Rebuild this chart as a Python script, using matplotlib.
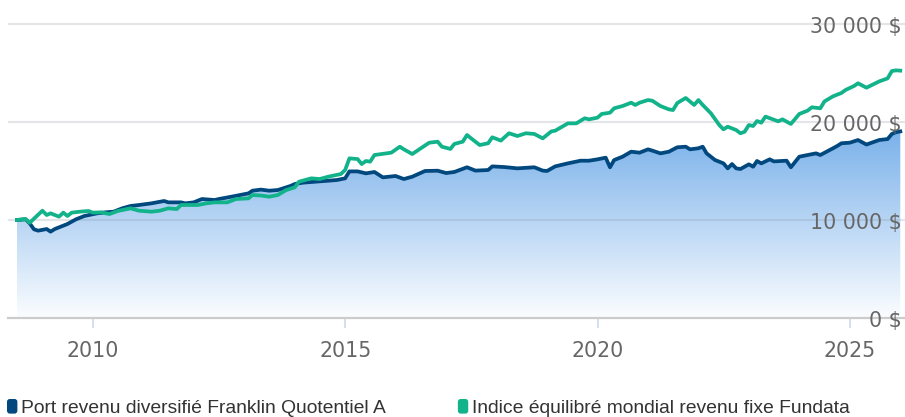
import numpy as np
import pandas as pd
import matplotlib
matplotlib.use("Agg")
import matplotlib.pyplot as plt
import matplotlib.dates as mdates
import matplotlib.transforms as mtransforms
from matplotlib.patches import Patch, FancyBboxPatch
from matplotlib.legend_handler import HandlerPatch
from matplotlib.colors import LinearSegmentedColormap

# ---------------- data ----------------
series_names = ["Port revenu diversifié Franklin Quotentiel A",
                "Indice équilibré mondial revenu fixe Fundata"]

fund_dates = ["2008-06", "2008-08", "2008-09", "2008-10", "2008-11", "2009-01", "2009-02", "2009-03",
              "2009-06", "2009-08", "2009-10", "2010-01", "2010-03", "2010-05", "2010-07", "2010-09",
              "2010-11", "2011-02", "2011-05", "2011-06", "2011-09", "2011-10", "2011-12", "2012-02",
              "2012-05", "2012-06", "2012-09", "2012-11", "2013-01", "2013-02", "2013-04", "2013-06",
              "2013-08", "2013-11", "2013-12", "2014-02", "2014-05", "2014-08", "2014-10", "2014-12",
              "2015-01", "2015-03", "2015-05", "2015-07", "2015-09", "2015-12", "2016-02", "2016-04",
              "2016-07", "2016-10", "2016-12", "2017-02", "2017-05", "2017-07", "2017-10", "2017-11",
              "2018-02", "2018-05", "2018-09", "2018-11", "2018-12", "2019-02", "2019-05", "2019-08",
              "2019-10", "2019-12", "2020-02", "2020-03", "2020-04", "2020-06", "2020-08", "2020-10",
              "2020-12", "2021-01", "2021-03", "2021-05", "2021-07", "2021-09", "2021-10", "2021-12",
              "2022-01", "2022-02", "2022-04", "2022-06", "2022-07", "2022-08", "2022-09", "2022-10",
              "2022-12", "2023-01", "2023-02", "2023-03", "2023-05", "2023-06", "2023-09", "2023-10",
              "2023-12", "2024-02", "2024-04", "2024-05", "2024-08", "2024-09", "2024-10", "2024-12",
              "2025-02", "2025-04", "2025-07", "2025-09", "2025-10", "2025-11", "2025-12"]
fund_values = [10000, 10070, 9660, 9050, 8910, 9080, 8810, 9080,
               9590, 10070, 10410, 10680, 10780, 10850, 11190, 11430,
               11530, 11700, 11940, 11800, 11800, 11700, 11800, 12140,
               12040, 12140, 12380, 12550, 12720, 12990, 13100, 12990,
               13060, 13470, 13670, 13810, 13910, 14010, 14080, 14250,
               14960, 14960, 14760, 14900, 14350, 14490, 14180, 14420,
               15000, 15030, 14790, 14900, 15380, 15040, 15100, 15470,
               15400, 15270, 15380, 15040, 15000, 15470, 15780, 16050,
               16050, 16190, 16360, 15380, 16120, 16460, 16970, 16870,
               17210, 17080, 16800, 16970, 17420, 17480, 17210, 17320,
               17480, 16800, 16120, 15780, 15270, 15710, 15270, 15200,
               15680, 15440, 16020, 15780, 16190, 15980, 16050, 15380,
               16460, 16630, 16800, 16630, 17320, 17550, 17830, 17890,
               18160, 17700, 18160, 18260, 18780, 18960, 19040]

index_dates = ["2008-06", "2008-08", "2008-09", "2008-12", "2009-01", "2009-02", "2009-04", "2009-05",
               "2009-06", "2009-07", "2009-09", "2009-11", "2009-12", "2010-02", "2010-04", "2010-06",
               "2010-09", "2010-11", "2011-02", "2011-04", "2011-06", "2011-08", "2011-09", "2012-01",
               "2012-03", "2012-05", "2012-08", "2012-10", "2013-01", "2013-02", "2013-04", "2013-06",
               "2013-08", "2013-10", "2013-12", "2014-01", "2014-04", "2014-06", "2014-08", "2014-11",
               "2014-12", "2015-01", "2015-03", "2015-04", "2015-05", "2015-06", "2015-07", "2015-11",
               "2016-01", "2016-02", "2016-04", "2016-06", "2016-08", "2016-10", "2016-11", "2017-01",
               "2017-02", "2017-04", "2017-05", "2017-06", "2017-08", "2017-10", "2017-11", "2018-01",
               "2018-03", "2018-05", "2018-07", "2018-09", "2018-11", "2019-01", "2019-02", "2019-05",
               "2019-07", "2019-09", "2019-10", "2019-12", "2020-01", "2020-03", "2020-04", "2020-06",
               "2020-08", "2020-09", "2020-10", "2020-12", "2021-01", "2021-03", "2021-05", "2021-06",
               "2021-07", "2021-09", "2021-11", "2021-12", "2022-01", "2022-03", "2022-05", "2022-06",
               "2022-07", "2022-09", "2022-10", "2022-11", "2022-12", "2023-01", "2023-02", "2023-03",
               "2023-04", "2023-07", "2023-08", "2023-10", "2023-12", "2024-02", "2024-03", "2024-05",
               "2024-06", "2024-08", "2024-09", "2024-10", "2024-11", "2025-01", "2025-02", "2025-04",
               "2025-07", "2025-09", "2025-10", "2025-11", "2025-12"]
index_values = [10000, 10100, 9720, 10950, 10510, 10680, 10340, 10750,
                10410, 10750, 10850, 10920, 10750, 10780, 10610, 10920,
                11190, 10950, 10850, 10950, 11190, 11120, 11530, 11530,
                11700, 11800, 11800, 12140, 12210, 12550, 12500, 12380,
                12550, 13060, 13330, 13910, 14250, 14180, 14420, 14690,
                15100, 16290, 16220, 15710, 16020, 15950, 16630, 16870,
                17480, 17210, 16730, 17310, 17890, 17990, 17480, 17250,
                17760, 17990, 18670, 18330, 17650, 17830, 18440, 18100,
                18850, 18570, 18850, 18780, 18330, 19040, 19110, 19860,
                19860, 20380, 20270, 20440, 20820, 20950, 21400, 21630,
                21970, 21740, 21970, 22240, 22170, 21630, 21290, 21220,
                21940, 22450, 21740, 22240, 21740, 20890, 19690, 19250,
                19520, 19180, 18850, 19000, 19690, 19590, 20100, 19930,
                20550, 20070, 20270, 19800, 20820, 21160, 21500, 21400,
                22100, 22620, 22790, 22960, 23270, 23680, 23950, 23500,
                24140, 24450, 25200, 25270, 25240]

y_ticks = [0, 10000, 20000, 30000]
y_tick_labels = ["0 $", "10 000 $", "20 000 $", "30 000 $"]
x_tick_years = [2010, 2015, 2020, 2025]

# ---------------- style ----------------
FUND_COLOR = "#00487e"
INDEX_COLOR = "#12b38a"
LABEL_GRAY = "#666666"

W, H = 905, 417
fig = plt.figure(figsize=(W / 100, H / 100), dpi=100)
ax_left, ax_right, ax_top, ax_bottom = 8, 905, 14, 318
ax = fig.add_axes([ax_left / W, (H - ax_bottom) / H, (ax_right - ax_left) / W, (ax_bottom - ax_top) / H])

fund_x = mdates.date2num(pd.to_datetime(fund_dates) + pd.offsets.MonthEnd(0))
index_x = mdates.date2num(pd.to_datetime(index_dates) + pd.offsets.MonthEnd(0))
fund_y = np.array(fund_values, dtype=float)
index_y = np.array(index_values, dtype=float)

y_top = 31020
ax.set_ylim(0, y_top)
ax.set_xlim(mdates.date2num(pd.Timestamp("2008-04-26")), mdates.date2num(pd.Timestamp("2026-02-03")))

# gridlines (manual, between fill and lines)
for yv in y_ticks[1:]:
    ax.axhline(yv, color="#8a96a3", alpha=0.24, lw=1.5, zorder=1.5)

# gradient area under fund line
poly = ax.fill_between(fund_x, 0, fund_y, facecolor="none", edgecolor="none", zorder=1)
cmap = LinearSegmentedColormap.from_list("areagrad", ["#fbfdff", "#7ab1ea"])
grad = np.linspace(0, 1, 256).reshape(-1, 1)
ymax_grad = fund_y.max()
img = ax.imshow(grad, cmap=cmap, aspect="auto", origin="lower",
                extent=[fund_x[0], fund_x[-1], 0, ymax_grad], zorder=1, interpolation="bilinear")
img.set_clip_path(poly.get_paths()[0], transform=ax.transData)

ax.plot(fund_x, fund_y, color=FUND_COLOR, lw=2.7, zorder=2, solid_joinstyle="round")
ax.plot(index_x, index_y, color=INDEX_COLOR, lw=2.7, zorder=2.1, solid_joinstyle="round")

# axes styling
for s in ["top", "right", "left"]:
    ax.spines[s].set_visible(False)
ax.spines["bottom"].set_color("#cccccc")
ax.spines["bottom"].set_linewidth(1.6)
ax.spines["bottom"].set_zorder(3)

ax.set_yticks([])
ax.set_xticks(mdates.date2num([pd.Timestamp(f"{y}-01-01") for y in x_tick_years]))
ax.set_xticklabels([str(y) for y in x_tick_years])
ax.tick_params(axis="x", direction="out", length=7.5, width=1.1, color="#ccd6eb",
               pad=9, labelsize=14.8, labelcolor=LABEL_GRAY)
for lbl in ax.get_xticklabels():
    lbl.set_family("DejaVu Sans")

# y labels inside the plot, right aligned
ytrans = mtransforms.offset_copy(ax.get_yaxis_transform(), fig=fig, x=-2.2, y=-6.8, units="points")
for yv, txt in zip(y_ticks, y_tick_labels):
    ax.text(1.0, yv, txt, transform=ytrans, ha="right", va="baseline",
            fontsize=14.8, color=LABEL_GRAY, family="DejaVu Sans", zorder=5)

# legend with rounded square markers
class RoundHandler(HandlerPatch):
    def create_artists(self, legend, orig_handle, xdescent, ydescent, width, height, fontsize, trans):
        p = FancyBboxPatch((-xdescent, -ydescent), width, height,
                           boxstyle="round,pad=0,rounding_size=2",
                           facecolor=orig_handle.get_facecolor(), edgecolor="none", transform=trans)
        return [p]

handles = [Patch(facecolor=FUND_COLOR), Patch(facecolor=INDEX_COLOR)]
leg = fig.legend(handles, series_names, loc="center left", bbox_to_anchor=(7 / W, 1 - 408 / H),
                 ncol=2, frameon=False, borderpad=0, borderaxespad=0,
                 handlelength=0.54, handleheight=0.79, handletextpad=0.18, columnspacing=3.75,
                 prop={"family": "Liberation Sans", "size": 13.85},
                 handler_map={Patch: RoundHandler()})
for t in leg.get_texts():
    t.set_color("#333333")

fig.savefig("out.png", dpi=100)
